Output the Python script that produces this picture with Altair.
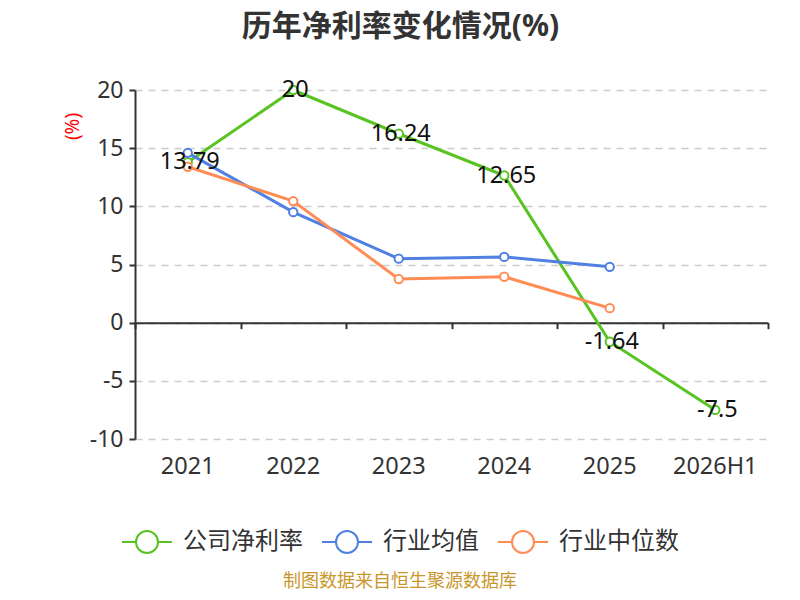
import altair as alt
import pandas as pd

periods = ["2021", "2022", "2023", "2024", "2025", "2026H1"]
company = [13.79, 20, 16.24, 12.65, -1.64, -7.5]
ind_avg = [14.6, 9.5, 5.5, 5.65, 4.8]
ind_med = [13.4, 10.45, 3.75, 3.95, 1.25]
series_names = ["公司净利率", "行业均值", "行业中位数"]
series_colors = ["#58c322", "#4f80e2", "#ff8c55"]
y_ticks = [-10, -5, 0, 5, 10, 15, 20]

rows = []
for name, vals in zip(series_names, [company, ind_avg, ind_med]):
    for i, v in enumerate(vals):
        rows.append({"period": periods[i], "value": v, "series": name, "order": i})
df = pd.DataFrame(rows)
df_company = df[df.series == "公司净利率"].copy()
df_company["label"] = [f"{v:g}" for v in company]

W, H = 633, 349
FONT = "Noto Sans, Noto Sans CJK SC"
zero_offset = -(H - H * 20 / 30)

xscale = alt.Scale(domain=periods, paddingInner=0, paddingOuter=0)
yscale = alt.Scale(domain=[-10, 20], nice=False, zero=False)

y_axis = alt.Axis(values=y_ticks, labelExpr="'' + datum.value",
                  domainColor="#333333", domainWidth=2,
                  tickColor="#333333", tickWidth=2, tickSize=6,
                  labelFontSize=23, labelFont=FONT, labelColor="#333333",
                  labelPadding=6,
                  grid=True, gridColor="#cccccc", gridDash=[7, 6], gridWidth=1.5,
                  titleColor="red", titleFontSize=19, titleFontWeight="normal",
                  titleFont=FONT, titleX=-63, titleY=36, titleAngle=-90,
                  titleAlign="center", titleBaseline="middle")

color = alt.Color(
    "series:N",
    scale=alt.Scale(domain=series_names, range=series_colors),
    sort=series_names,
    legend=alt.Legend(
        title=None,
        orient="none",
        direction="horizontal",
        legendX=-14,
        legendY=426,
        symbolType="M-1,0L-0.44,0M0.44,0L1,0M0.44,0A0.44,0.44,0,1,1,-0.44,0A0.44,0.44,0,1,1,0.44,0Z",
        symbolSize=2500,
        symbolStrokeWidth=2,
        symbolFillColor="white",
        labelFontSize=24,
        labelFont=FONT,
        labelColor="#333333",
        labelOffset=10,
        columnPadding=15,
    ),
)

base = alt.Chart(df)

lines = base.mark_line(strokeWidth=3).encode(
    x=alt.X(
        "period:N", scale=xscale, sort=periods, title=None,
        axis=alt.Axis(domain=False, ticks=False, labelAngle=0, labelFontSize=23.5,
                      labelFont=FONT, labelColor="#333333", labelPadding=15,
                      grid=False),
    ),
    y=alt.Y("value:Q", scale=yscale, title="(%)", axis=y_axis),
    color=color,
    detail="series:N",
    order="order:Q",
)

points = base.mark_point(filled=True, fill="white", size=70, strokeWidth=2, opacity=1).encode(
    x=alt.X("period:N", scale=xscale, sort=periods, axis=None),
    y=alt.Y("value:Q", scale=yscale, title="(%)", axis=y_axis),
    stroke=alt.Stroke("series:N", scale=alt.Scale(domain=series_names, range=series_colors), legend=None),
)

labels = alt.Chart(df_company).mark_text(
    fontSize=23.5, font=FONT, color="#111111", align="center", baseline="middle", dx=2
).encode(
    x=alt.X(
        "period:N", scale=xscale, sort=periods, title=None,
        axis=alt.Axis(orient="bottom", offset=zero_offset, labels=False, domain=True,
                      domainColor="#333333", domainWidth=2, ticks=True,
                      tickBand="extent", tickColor="#333333", tickWidth=2,
                      tickSize=6, grid=False),
    ),
    y=alt.Y("value:Q", scale=yscale, title="(%)", axis=y_axis),
    text="label:N",
)

source = alt.Chart(pd.DataFrame({"t": ["制图数据来自恒生聚源数据库"]})).mark_text(
    fontSize=18, font=FONT, color="#c9962b", align="center", baseline="middle"
).encode(
    x=alt.value(400 - 135),
    y=alt.value(582 - 90),
    text="t:N",
)

chart = (
    alt.layer(lines, points, labels, source)
    .resolve_axis(x="independent")
    .resolve_scale(color="independent")
    .properties(
        width=W,
        height=H,
        title=alt.TitleParams(
            "历年净利率变化情况(%)", fontSize=30, font=FONT, fontWeight="bold",
            color="#333333", anchor="middle", dx=-51, offset=36,
        ),
        autosize=alt.AutoSizeParams(type="none"),
        padding={"left": 127, "top": 82, "right": 24, "bottom": 153},
    )
    .configure_view(stroke=None)
)

chart.save("out.html", embed_options={"renderer": "svg", "actions": False})
